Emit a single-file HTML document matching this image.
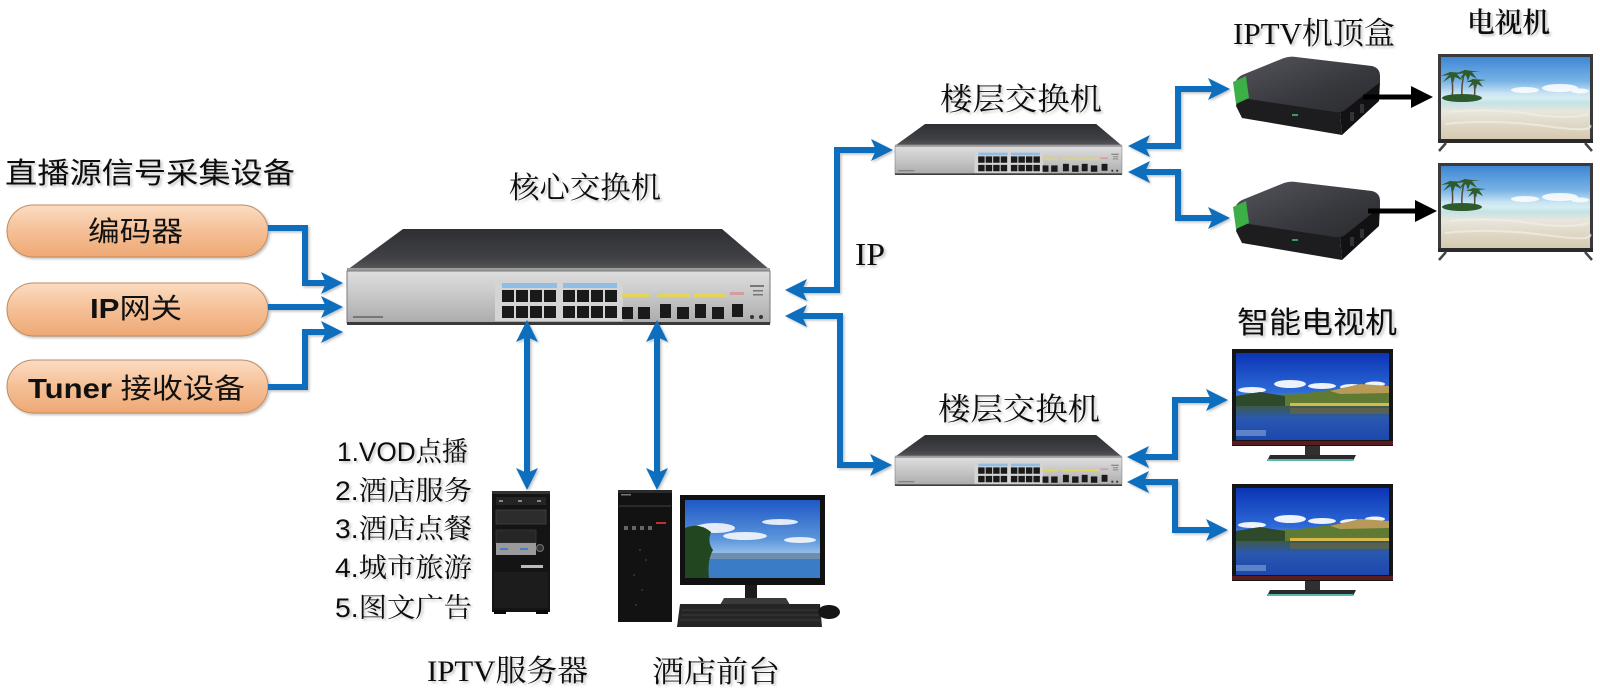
<!DOCTYPE html>
<html><head><meta charset="utf-8">
<style>
html,body{margin:0;padding:0;background:#fff;}
svg{display:block;}
.sans{font-family:"Liberation Sans","Noto Sans CJK SC",sans-serif;}
.serif{font-family:"Liberation Serif","Noto Serif CJK SC",serif;}
.mix{font-family:"Liberation Sans","Noto Serif CJK SC",sans-serif;}
</style></head><body>
<svg width="1600" height="694" viewBox="0 0 1600 694" xmlns="http://www.w3.org/2000/svg">
<defs>
  <filter id="ts" x="-10%" y="-30%" width="130%" height="170%"><feDropShadow dx="2" dy="2" stdDeviation="1.3" flood-color="#000" flood-opacity="0.22"/></filter>
  <filter id="as" x="-10%" y="-10%" width="130%" height="130%"><feDropShadow dx="1.5" dy="1.5" stdDeviation="1.2" flood-color="#000" flood-opacity="0.25"/></filter>
  <linearGradient id="gTop" x1="0" y1="0" x2="0" y2="1"><stop offset="0" stop-color="#2e2f32"/><stop offset="0.7" stop-color="#404145"/><stop offset="1" stop-color="#58595d"/></linearGradient>
  <linearGradient id="gFront" x1="0" y1="0" x2="0" y2="1"><stop offset="0" stop-color="#dedede"/><stop offset="0.5" stop-color="#c6c6c6"/><stop offset="1" stop-color="#acacac"/></linearGradient>
  <linearGradient id="gPill" x1="0" y1="0" x2="0" y2="1"><stop offset="0" stop-color="#fbdcc2"/><stop offset="0.5" stop-color="#f5bf96"/><stop offset="1" stop-color="#eea874"/></linearGradient>
  <linearGradient id="gStb" x1="0" y1="0" x2="1" y2="1"><stop offset="0" stop-color="#55565c"/><stop offset="0.6" stop-color="#37383d"/><stop offset="1" stop-color="#2a2b2f"/></linearGradient>
  <linearGradient id="gBeach" x1="0" y1="0" x2="0" y2="1"><stop offset="0" stop-color="#3f86d4"/><stop offset="0.3" stop-color="#7ab4e6"/><stop offset="0.44" stop-color="#c8e3f3"/><stop offset="0.5" stop-color="#d6eef2"/><stop offset="0.56" stop-color="#c3e2e6"/><stop offset="0.66" stop-color="#e8e6dc"/><stop offset="1" stop-color="#d6c9b0"/></linearGradient>
  <linearGradient id="gSky" x1="0" y1="0" x2="0" y2="1"><stop offset="0" stop-color="#0b34b5"/><stop offset="0.45" stop-color="#2e6bd8"/><stop offset="0.55" stop-color="#5a9ae6"/></linearGradient>
  <linearGradient id="gWater" x1="0" y1="0" x2="0" y2="1"><stop offset="0" stop-color="#3d5a4a"/><stop offset="0.35" stop-color="#2a58b0"/><stop offset="1" stop-color="#1c48ae"/></linearGradient>
  <linearGradient id="gMon" x1="0" y1="0" x2="0" y2="1"><stop offset="0" stop-color="#1f58c4"/><stop offset="0.5" stop-color="#5b95dc"/><stop offset="0.75" stop-color="#a9cdee"/><stop offset="1" stop-color="#c8e0f4"/></linearGradient>

  <g id="sw">
    <polygon points="403,229 722,229 770,270 347,270" fill="url(#gTop)"/>
    <rect x="347" y="268" width="423" height="4" fill="#9c9c9c"/>
    <rect x="347" y="271" width="423" height="52" fill="url(#gFront)" stroke="#7a7a7a" stroke-width="1"/>
    <rect x="347" y="322" width="423" height="3" fill="#3a3a3a"/>
    <rect x="495" y="280" width="128" height="41" fill="#d4d4d4"/>
    <rect x="502" y="283" width="55" height="5" fill="#8fbde3"/>
    <rect x="563" y="283" width="54" height="5" fill="#8fbde3"/>
    <g fill="#1a1a1a">
      <rect x="502" y="290" width="12" height="12"/><rect x="516" y="290" width="12" height="12"/><rect x="530" y="290" width="12" height="12"/><rect x="544" y="290" width="12" height="12"/>
      <rect x="502" y="306" width="12" height="12"/><rect x="516" y="306" width="12" height="12"/><rect x="530" y="306" width="12" height="12"/><rect x="544" y="306" width="12" height="12"/>
      <rect x="563" y="290" width="12" height="12"/><rect x="577" y="290" width="12" height="12"/><rect x="591" y="290" width="12" height="12"/><rect x="605" y="290" width="12" height="12"/>
      <rect x="563" y="306" width="12" height="12"/><rect x="577" y="306" width="12" height="12"/><rect x="591" y="306" width="12" height="12"/><rect x="605" y="306" width="12" height="12"/>
      <rect x="622" y="307" width="11" height="12"/><rect x="638" y="307" width="12" height="12"/>
      <rect x="660" y="304" width="11" height="14"/><rect x="677" y="307" width="12" height="12"/>
      <rect x="695" y="304" width="11" height="14"/><rect x="712" y="307" width="12" height="12"/>
      <rect x="732" y="304" width="11" height="13"/>
    </g>
    <g fill="#e3d65a">
      <rect x="622" y="294" width="28" height="3"/><rect x="658" y="294" width="32" height="3"/><rect x="694" y="294" width="32" height="3"/>
    </g>
    <rect x="730" y="292" width="14" height="3" fill="#d89a9a"/>
    <g fill="#777"><rect x="750" y="285" width="14" height="2"/><rect x="753" y="290" width="10" height="1.5"/><rect x="753" y="294" width="10" height="1.5"/><rect x="353" y="316" width="30" height="2"/></g>
    <circle cx="752" cy="317" r="2" fill="#333"/><circle cx="761" cy="317" r="2" fill="#333"/>
  </g>

  <g id="stb">
    <polygon points="1238,96 1340,112 1342,135 1242,118 1236,106" fill="#1d1d1f"/>
    <polygon points="1340,112 1380,82 1379,101 1342,135" fill="#121214"/>
    <path d="M1235,84 Q1236,78 1242,75 L1284,58 Q1290,56 1296,57 L1372,66 Q1380,68 1380,76 L1380,82 L1345,110 Q1341,113 1335,112 L1242,98 Q1236,96 1235,90 Z" fill="url(#gStb)"/>
    <polygon points="1233,82 1246,76 1249,98 1236,104" fill="#3caf46"/>
    <rect x="1292" y="114" width="6" height="2" fill="#3c9a60"/>
    <rect x="1350" y="112" width="4" height="9" fill="#333"/><rect x="1360" y="104" width="4" height="9" fill="#333"/>
  </g>

  <g id="btv">
    <rect x="1438" y="54" width="155" height="89" fill="#3a3a3a"/>
    <rect x="1441" y="57" width="149" height="82" fill="url(#gBeach)"/>
    <g stroke="#5a4a36" stroke-width="1.5" fill="none">
      <path d="M1452,98 q2,-14 -2,-26"/><path d="M1462,98 q-1,-14 3,-28"/><path d="M1474,99 q2,-10 -1,-20"/>
    </g>
    <g fill="#2f5a2c">
      <path d="M1450,72 l-9,4 l8,-1 l-6,7 l8,-5 l2,6 l2,-6 l7,3 l-5,-6 l9,-1 z"/>
      <path d="M1465,70 l-8,3 l7,0 l-5,7 l7,-5 l2,6 l2,-6 l7,4 l-5,-7 l8,0 z"/>
      <path d="M1473,79 l-7,3 l6,0 l-4,6 l6,-4 l2,5 l1,-5 l6,3 l-4,-6 l7,-1 z"/>
      <ellipse cx="1462" cy="98" rx="20" ry="4"/>
    </g>
    <g fill="#ffffff" opacity="0.85">
      <ellipse cx="1525" cy="90" rx="14" ry="3"/><ellipse cx="1560" cy="88" rx="18" ry="4"/><ellipse cx="1580" cy="91" rx="9" ry="2.5"/>
    </g>
    <g stroke="#f2efe6" stroke-width="2" opacity="0.7" fill="none">
      <path d="M1450,112 q40,-4 80,2 t58,0"/><path d="M1445,124 q50,-5 100,2 t45,-1"/>
    </g>
    <rect x="1438" y="139" width="155" height="4" fill="#2a2a2a"/>
    <path d="M1446,143 L1439,151 M1585,143 L1592,151" stroke="#444" stroke-width="2.5"/>
  </g>

  <g id="stv">
    <rect x="1232" y="349" width="161" height="97" fill="#151515"/>
    <rect x="1236" y="353" width="153" height="87" fill="url(#gSky)"/>
    <g fill="#ffffff" opacity="0.92">
      <ellipse cx="1252" cy="390" rx="14" ry="3"/><ellipse cx="1290" cy="384" rx="16" ry="4"/><ellipse cx="1322" cy="386" rx="14" ry="3"/><ellipse cx="1352" cy="387" rx="12" ry="3"/><ellipse cx="1375" cy="384" rx="10" ry="2.5"/>
    </g>
    <polygon points="1236,397 1270,395 1300,394 1330,390 1355,386 1389,387 1389,407 1236,407" fill="#5e7a33"/>
    <polygon points="1330,391 1360,384 1389,386 1389,393 1340,394" fill="#b79a58"/>
    <polygon points="1236,396 1260,392 1285,396 1285,406 1236,406" fill="#2f4a2a"/>
    <rect x="1290" y="403" width="99" height="3" fill="#d8b84a"/>
    <rect x="1236" y="406" width="153" height="34" fill="url(#gWater)"/>
    <rect x="1290" y="408" width="99" height="6" fill="#7a6a30" opacity="0.5"/>
    <rect x="1236" y="430" width="30" height="6" fill="#9ab8e0" opacity="0.5"/>
    <rect x="1232" y="441" width="161" height="4" fill="#5a1c1c"/>
    <rect x="1305" y="446" width="15" height="10" fill="#303030"/>
    <polygon points="1270,455 1356,455 1353,461 1267,461" fill="#2a2a2a"/>
    <rect x="1267" y="459" width="86" height="2" fill="#5ab8b0"/>
  </g>
</defs>

<!-- left source label -->
<text class="sans" x="5" y="183" font-size="29" textLength="290" lengthAdjust="spacingAndGlyphs" fill="#111" filter="url(#ts)">直播源信号采集设备</text>

<!-- pills -->
<g filter="url(#as)">
  <rect x="7" y="205" width="261" height="52" rx="26" fill="url(#gPill)" stroke="#c08d62" stroke-width="1"/>
  <rect x="7" y="283" width="261" height="53" rx="26.5" fill="url(#gPill)" stroke="#c08d62" stroke-width="1"/>
  <rect x="7" y="360" width="261" height="53" rx="26.5" fill="url(#gPill)" stroke="#c08d62" stroke-width="1"/>
</g>
<text class="sans" x="88" y="241" font-size="28" textLength="95" lengthAdjust="spacingAndGlyphs" fill="#111">编码器</text>
<text class="sans" x="90" y="318" font-size="28" textLength="92" lengthAdjust="spacingAndGlyphs" fill="#111"><tspan font-weight="bold">IP</tspan>网关</text>
<text class="sans" x="28" y="398" font-size="28" textLength="217" lengthAdjust="spacingAndGlyphs" fill="#111"><tspan font-weight="bold">Tuner</tspan> 接收设备</text>

<!-- switches -->
<use href="#sw"/>
<use href="#sw" transform="translate(895,124) scale(0.5366,0.531) translate(-347,-229)"/>
<use href="#sw" transform="translate(895,435) scale(0.5366,0.531) translate(-347,-229)"/>

<text class="serif" x="509" y="198" font-size="30" textLength="152" lengthAdjust="spacingAndGlyphs" fill="#111" filter="url(#ts)">核心交换机</text>
<text class="serif" x="940" y="110" font-size="31" textLength="162" lengthAdjust="spacingAndGlyphs" fill="#111" filter="url(#ts)">楼层交换机</text>
<text class="serif" x="938" y="420" font-size="31" textLength="162" lengthAdjust="spacingAndGlyphs" fill="#111" filter="url(#ts)">楼层交换机</text>
<text class="serif" x="855" y="265" font-size="32" textLength="30" lengthAdjust="spacingAndGlyphs" fill="#111" filter="url(#ts)">IP</text>

<!-- STBs -->
<use href="#stb"/>
<use href="#stb" transform="translate(0,125)"/>
<text class="serif" x="1233" y="44" font-size="31" textLength="162" lengthAdjust="spacingAndGlyphs" fill="#111" filter="url(#ts)">IPTV机顶盒</text>

<!-- beach TVs -->
<use href="#btv"/>
<use href="#btv" transform="translate(0,109)"/>
<text class="serif" x="1467" y="32" font-size="28" font-weight="600" textLength="83" lengthAdjust="spacingAndGlyphs" fill="#111" filter="url(#ts)">电视机</text>

<!-- smart TVs -->
<use href="#stv"/>
<use href="#stv" transform="translate(0,135)"/>
<text class="sans" x="1237" y="333" font-size="30" textLength="160" lengthAdjust="spacingAndGlyphs" fill="#111" filter="url(#ts)">智能电视机</text>

<!-- server list -->
<g class="mix" font-size="27" fill="#111" filter="url(#ts)">
  <text x="337" y="461" textLength="131" lengthAdjust="spacingAndGlyphs">1.VOD点播</text>
  <text x="335" y="500" textLength="137" lengthAdjust="spacingAndGlyphs">2.酒店服务</text>
  <text x="335" y="538" textLength="137" lengthAdjust="spacingAndGlyphs">3.酒店点餐</text>
  <text x="335" y="577" textLength="137" lengthAdjust="spacingAndGlyphs">4.城市旅游</text>
  <text x="335" y="617" textLength="137" lengthAdjust="spacingAndGlyphs">5.图文广告</text>
</g>

<!-- server tower -->
<g>
  <rect x="492" y="491" width="58" height="121" fill="#141414"/>
  <rect x="492" y="491" width="58" height="3" fill="#333"/>
  <rect x="496" y="497" width="50" height="8" fill="#242424"/>
  <rect x="499" y="500" width="4" height="2" fill="#888"/><rect x="518" y="500" width="4" height="2" fill="#888"/><rect x="537" y="500" width="4" height="2" fill="#888"/>
  <rect x="496" y="510" width="50" height="14" fill="#2c2c2c" stroke="#444" stroke-width="0.8"/>
  <rect x="496" y="530" width="40" height="13" fill="#262626" stroke="#3a3a3a" stroke-width="0.8"/>
  <rect x="496" y="543" width="40" height="12" fill="#9a9a9a"/>
  <rect x="500" y="548" width="8" height="2" fill="#4a7ac8"/><rect x="520" y="548" width="8" height="2" fill="#4a7ac8"/>
  <circle cx="540" cy="548" r="3.5" fill="#333" stroke="#777" stroke-width="1"/>
  <rect x="521" y="565" width="22" height="3" fill="#bbb"/>
  <rect x="494" y="572" width="54" height="36" fill="#1c1c1c"/>
  <rect x="494" y="610" width="12" height="4" fill="#0a0a0a"/><rect x="536" y="610" width="12" height="4" fill="#0a0a0a"/>
</g>

<!-- desktop tower -->
<g>
  <rect x="618" y="490" width="54" height="132" fill="#121212"/>
  <rect x="618" y="490" width="54" height="3" fill="#2a2a2a"/>
  <rect x="621" y="494" width="10" height="1.5" fill="#777"/>
  <rect x="619" y="505" width="52" height="2" fill="#2a2a2a"/>
  <g fill="#666"><rect x="624" y="526" width="4" height="4"/><rect x="632" y="526" width="4" height="4"/><rect x="640" y="526" width="4" height="4"/><rect x="648" y="526" width="4" height="4"/></g>
  <rect x="656" y="522" width="10" height="2" fill="#c03030"/>
  <g fill="#3a3a3a"><circle cx="640" cy="550" r="1"/><circle cx="646" cy="560" r="1"/><circle cx="634" cy="575" r="1"/><circle cx="642" cy="590" r="1"/><circle cx="636" cy="605" r="1"/></g>
</g>

<!-- monitor -->
<g>
  <rect x="680" y="495" width="145" height="90" fill="#111"/>
  <rect x="685" y="500" width="135" height="78" fill="url(#gMon)"/>
  <g fill="#ffffff" opacity="0.85">
    <ellipse cx="715" cy="528" rx="20" ry="5"/><ellipse cx="745" cy="536" rx="22" ry="4"/><ellipse cx="780" cy="522" rx="18" ry="3"/><ellipse cx="800" cy="540" rx="16" ry="3"/>
  </g>
  <rect x="700" y="553" width="120" height="6" fill="#6f8fb0"/>
  <rect x="685" y="559" width="135" height="19" fill="#3b7cc6"/>
  <path d="M685,528 q14,-6 26,4 q-4,10 2,18 q-6,10 -4,28 h-24 z" fill="#22461f"/>
  <rect x="745" y="585" width="12" height="15" fill="#1c1c1c"/>
  <polygon points="724,598 786,598 790,605 720,605" fill="#3a3a3a"/>
  <polygon points="680,604 820,604 822,627 677,627" fill="#252525"/>
  <g stroke="#3c3c3c" stroke-width="1"><path d="M682,610 H818 M681,615 H819 M680,620 H820"/></g>
  <ellipse cx="829" cy="612" rx="11" ry="7" fill="#151515"/>
</g>

<text class="serif" x="427" y="681" font-size="30" textLength="161" lengthAdjust="spacingAndGlyphs" fill="#111" filter="url(#ts)">IPTV服务器</text>
<text class="serif" x="652" y="682" font-size="30" textLength="128" lengthAdjust="spacingAndGlyphs" fill="#111" filter="url(#ts)">酒店前台</text>

<!-- blue connectors -->
<g filter="url(#as)">
  <g fill="none" stroke="#0a6ebd" stroke-width="6" stroke-linejoin="miter">
    <path d="M268,228 H305 V283 H328"/>
    <path d="M268,307 H328"/>
    <path d="M268,387 H305 V332 H328"/>
    <path d="M527,335 V475"/>
    <path d="M657,335 V475"/>
    <path d="M800,290 H837 V150 H878"/>
    <path d="M800,316 H840 V465 H877"/>
    <path d="M1143,146 H1178 V89 H1215"/>
    <path d="M1143,172 H1178 V218 H1215"/>
    <path d="M1142,457 H1175 V400 H1213"/>
    <path d="M1142,482 H1175 V530 H1213"/>
  </g>
  <g fill="#0a6ebd">
    <polygon points="343,283 321,272 326,283 321,294"/>
    <polygon points="343,307 321,296 326,307 321,318"/>
    <polygon points="343,332 321,321 326,332 321,343"/>
    <polygon points="527,320 516,342 527,337 538,342"/>
    <polygon points="527,490 516,468 527,473 538,468"/>
    <polygon points="657,320 646,342 657,337 668,342"/>
    <polygon points="657,490 646,468 657,473 668,468"/>
    <polygon points="785,290 807,279 802,290 807,301"/>
    <polygon points="893,150 871,139 876,150 871,161"/>
    <polygon points="785,316 807,305 802,316 807,327"/>
    <polygon points="892,465 870,454 875,465 870,476"/>
    <polygon points="1128,146 1150,135 1145,146 1150,157"/>
    <polygon points="1230,89 1208,78 1213,89 1208,100"/>
    <polygon points="1128,172 1150,161 1145,172 1150,183"/>
    <polygon points="1230,218 1208,207 1213,218 1208,229"/>
    <polygon points="1127,457 1149,446 1144,457 1149,468"/>
    <polygon points="1228,400 1206,389 1211,400 1206,411"/>
    <polygon points="1127,482 1149,471 1144,482 1149,493"/>
    <polygon points="1228,530 1206,519 1211,530 1206,541"/>
  </g>
</g>

<!-- black arrows STB -> TV -->
<g>
  <path d="M1363,97 H1414" stroke="#000" stroke-width="5"/>
  <polygon points="1433,97 1411,86 1411,108" fill="#000"/>
  <path d="M1368,211 H1418" stroke="#000" stroke-width="5"/>
  <polygon points="1437,211 1415,200 1415,222" fill="#000"/>
</g>
</svg>
</body></html>
